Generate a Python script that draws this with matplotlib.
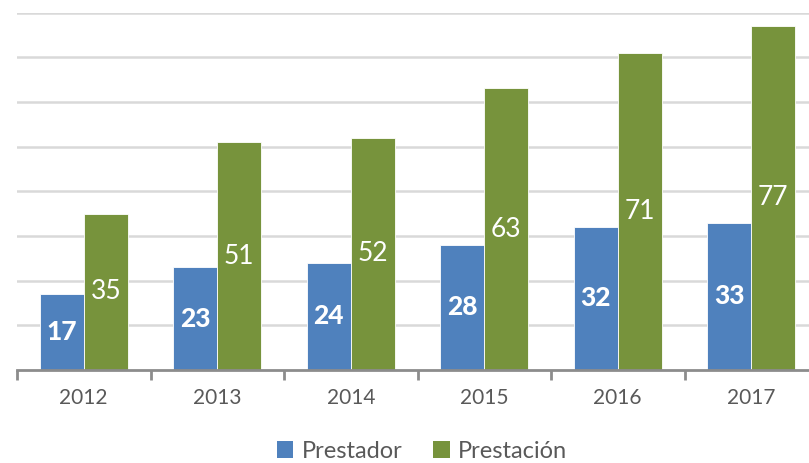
import matplotlib.pyplot as plt
from matplotlib.patches import Patch
import numpy as np

plt.rcParams['font.family'] = ['Lato', 'DejaVu Sans']

years = ['2012', '2013', '2014', '2015', '2016', '2017']
prestador = [17, 23, 24, 28, 32, 33]
prestacion = [35, 51, 52, 63, 71, 77]

blue = '#4F81BD'
green = '#77933C'

fig = plt.figure(figsize=(8.09, 4.63), dpi=100)
# axes runs a bit past the right edge, as in the original crop
ax = fig.add_axes([17 / 809, 1 - 370 / 463, 801 / 809, (370 - 12.5) / 463])

x = np.arange(len(years))
w = 0.33
b1 = ax.bar(x - w / 2, prestador, w, color=blue, edgecolor='white', linewidth=0.6)
b2 = ax.bar(x + w / 2, prestacion, w, color=green, edgecolor='white', linewidth=0.6)

for rect, v in zip(b1, prestador):
    ax.text(rect.get_x() + rect.get_width() / 2, v / 2, str(v), ha='center', va='center',
            color='white', fontsize=19, fontweight='black')
for rect, v in zip(b2, prestacion):
    ax.text(rect.get_x() + rect.get_width() / 2, v / 2, str(v), ha='center', va='center',
            color='white', fontsize=19)

ax.set_xlim(-0.5, len(years) - 0.5)
ax.set_ylim(0, 80)
ax.set_yticks(range(10, 81, 10))
ax.yaxis.grid(True, color='#D9D9D9', linewidth=1.8)
ax.set_axisbelow(True)
ax.tick_params(axis='y', left=False, labelleft=False)

# category labels centred, tick marks at the category boundaries
ax.set_xticks(x)
ax.set_xticklabels(years, fontsize=15, color='#595959')
ax.tick_params(axis='x', which='major', length=0, pad=13)
ax.set_xticks(np.arange(-0.5, len(years), 1), minor=True)
ax.tick_params(axis='x', which='minor', length=7, width=2, color='#8C8C8C', direction='out')

for s in ['top', 'right', 'left']:
    ax.spines[s].set_visible(False)
ax.spines['bottom'].set_color('#8C8C8C')
ax.spines['bottom'].set_linewidth(2)

handles = [Patch(facecolor=blue, label='Prestador'), Patch(facecolor=green, label='Prestación')]
fig.legend(handles=handles, loc='center', bbox_to_anchor=(422 / 809, 1 - 451 / 463), ncol=2,
           frameon=False, fontsize=17, handlelength=0.7, handleheight=0.7,
           handletextpad=0.35, columnspacing=1.3, labelcolor='#595959')

fig.savefig('out.png', dpi=100)
